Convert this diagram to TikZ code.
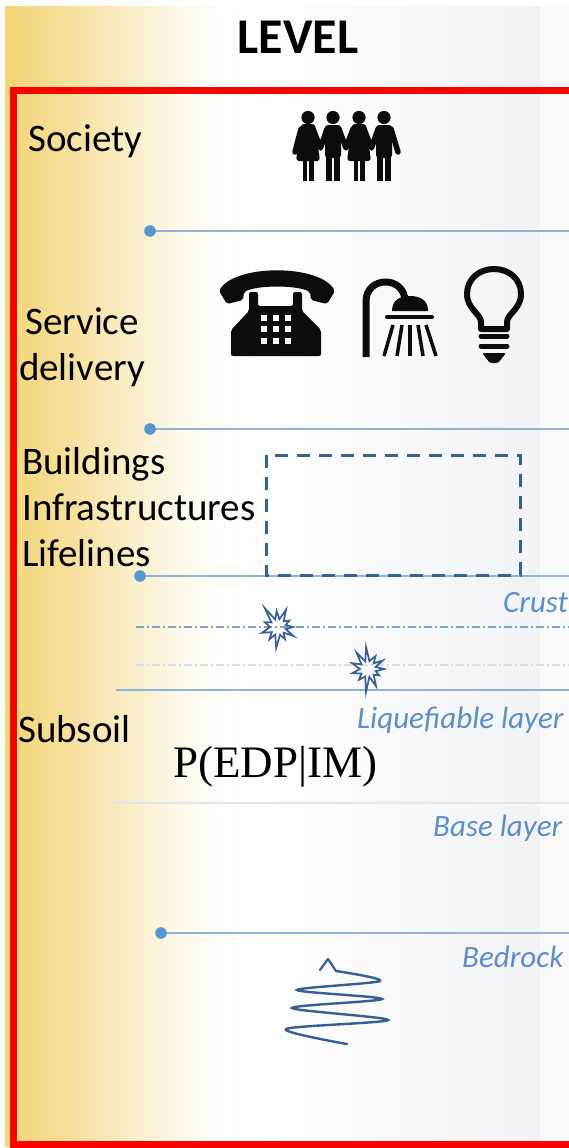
\documentclass[tikz,border=0pt]{standalone}
\usepackage{fontspec}
\setmainfont{Carlito}
\newfontfamily\edpfont{Liberation Serif}
\usepackage{xcolor}
\definecolor{goldbg}{RGB}{243, 212, 118}
\definecolor{palebg}{RGB}{242, 243, 246}
\definecolor{redframe}{RGB}{255,   0,   0}
\definecolor{layerline}{RGB}{146, 178, 214}
\definecolor{layerdot}{RGB}{ 88, 150, 210}
\definecolor{layertext}{RGB}{ 92, 142, 200}
\definecolor{boxblue}{RGB}{ 52, 100, 150}
\definecolor{quakeblue}{RGB}{ 55,  95, 145}
\definecolor{iconblack}{RGB}{ 12,  12,  12}
\usepackage{tikz}
\pgfdeclarehorizontalshading{levelbg}{100bp}{color(0bp)=(goldbg); color(25bp)=(goldbg);
  color(31bp)=(goldbg!72!white); color(37bp)=(goldbg!38!white);
  color(42bp)=(goldbg!12!white); color(47bp)=(white);
  color(75bp)=(palebg); color(100bp)=(palebg)}

\begin{document}
\begin{tikzpicture}[x=1pt, y=-1pt]

  \tikzstyle{rowlabel} = [
    anchor=base west, inner sep=0pt,
    font=\fontsize{39}{46}\selectfont, text=black
  ]
  \tikzstyle{layerlabel} = [
    anchor=base west, inner sep=0pt,
    font=\fontsize{31}{37}\selectfont\itshape, text=layertext
  ]
  \tikzstyle{levelline} = [draw=layerline, line width=2pt]
  \tikzstyle{leveldot} = [fill=layerdot]
  \tikzstyle{burst} = [draw=quakeblue, line width=1.7pt, line join=miter]
  \tikzstyle{icon} = [fill=iconblack, draw=none]
  \tikzstyle{iconline} = [draw=iconblack, line cap=round]

  \useasboundingbox (0,0) rectangle (569,1148);
  \fill[white] (0,0) rectangle (569,1148);
  \shade[shading=levelbg] (5,7) rectangle (540,1146);
  \fill[palebg!40!white] (540,7) rectangle (569,1146);

  \node[font=\fontsize{50}{60}\selectfont\bfseries, inner sep=0pt, anchor=base]
    (level) at (298,54) {LEVEL};

  \draw[redframe, line width=7pt] (13.5,90.5) rectangle (620,1144.5);

  % level separators
  \draw[levelline] (150,231) -- (569,231);
  \fill[leveldot] (150,231) circle (5.8);
  \draw[levelline] (150,429) -- (569,429);
  \fill[leveldot] (150,429) circle (5.8);
  \draw[levelline] (140,576) -- (569,576);
  \fill[leveldot] (140,576) circle (5.8);
  \draw[draw=layerline!80!boxblue, line width=1.5pt,
        dash pattern=on 8pt off 3pt on 2pt off 3pt] (136,627) -- (569,627);
  \draw[draw=palebg!70!layerline, line width=1.5pt,
        dash pattern=on 8pt off 3pt on 2pt off 3pt] (136,665) -- (569,665);
  \draw[draw=layerline, line width=1.6pt] (116,690) -- (569,690);
  \draw[draw=palebg!80!layerline, line width=2pt] (110,803) -- (569,803);
  \draw[levelline] (161,933) -- (569,933);
  \fill[leveldot] (161,933) circle (5.8);

  \node[rowlabel] (society) at (28,151) {Society};
  \node[rowlabel, anchor=base, align=center] (service) at (82,380)
    {Service\\delivery};
  \node[rowlabel, align=left] (assets) at (22,566)
    {Buildings\\Infrastructures\\Lifelines};
  \node[rowlabel] (subsoil) at (18,742) {Subsoil};

  \node[font=\edpfont\fontsize{45}{54}\selectfont, anchor=base west, inner sep=0pt]
    (edp) at (173,777) {P(EDP|IM)};

  \node[layerlabel] (crust) at (503,612) {Crust};
  \node[layerlabel] (liquef) at (357,728) {Liquefiable layer};
  \node[layerlabel] (base) at (433,836) {Base layer};
  \node[layerlabel] (bedrock) at (462,967) {Bedrock};

  \draw[boxblue, line width=3pt, dash pattern=on 13pt off 9pt] (266,455) rectangle (520,575);

  % people
  \foreach \cx in {308,359} {
    \begin{scope}[shift={(\cx,0)}]
      \fill[icon] (0,117.5) circle (6.6);
      \fill[icon, rounded corners=3pt] (-7,124) -- (7,124) -- (12,161) -- (-12,161) -- cycle;
      \fill[icon] (-5.5,158) rectangle (-1,181);
      \fill[icon] (1,158) rectangle (5.5,181);
    \end{scope}
  }
  \foreach \cx in {333,384} {
    \begin{scope}[shift={(\cx,0)}]
      \fill[icon] (0,117.5) circle (6.6);
      \fill[icon, rounded corners=3pt] (-8,125) rectangle (8,158);
      \fill[icon] (-7,155) rectangle (-1,181);
      \fill[icon] (1,155) rectangle (7,181);
    \end{scope}
  }
  \draw[iconline, line width=5.5pt] (301,129) -- (295,152);
  \draw[iconline, line width=5.5pt] (391,129) -- (398,152);
  \draw[iconline, line width=5.5pt, line join=round] (313,129) -- (320.5,148) -- (327,129);
  \draw[iconline, line width=5.5pt, line join=round] (339,129) -- (346,148) -- (353,129);
  \draw[iconline, line width=5.5pt, line join=round] (364,129) -- (371.5,148) -- (378,129);

  % telephone
  \fill[icon, rounded corners=2pt] (219,291) .. controls (235,264) and (319,264) .. (335,291)
    -- (327,304) -- (311,300) -- (310,292) .. controls (296,285) and (258,285) .. (244,292)
    -- (243,300) -- (227,304) -- cycle;
  \fill[icon, rounded corners=2pt] (249,311) -- (249,292) -- (258,292) -- (258,306)
    -- (293,306) -- (293,292) -- (302,292) -- (302,311) -- (321,330) -- (321,356)
    -- (231,356) -- (231,330) -- cycle;
  \foreach \i in {264,276,288}
    \foreach \j in {318,329,341}
      \fill[white] (\i,\j) ++(-3,-3) rectangle ++(6,6);

  % shower
  \draw[iconline, line width=7pt, line cap=butt] (366,357) -- (366,301.5)
    .. controls (366,275.5) and (405,275.5) .. (405,301.5);
  \fill[icon] (392,311) .. controls (392,300) and (400,296) .. (410,296)
    .. controls (420,296) and (428,300) .. (428,311) -- cycle;
  \draw[iconline, line width=4pt] (387,317) -- (432,317);
  \foreach \xa/\xb in {393/384, 402/397, 410/410, 418/423, 426/436}
    \draw[iconline, line width=3.5pt, line cap=butt] (\xa,325) -- (\xb,356);

  % bulb
  \draw[iconline, line width=6pt, line join=round] (481,329) -- (481,322)
    .. controls (481,314) and (467,309) .. (467,294)
    .. controls (467,279) and (479,269) .. (494,269)
    .. controls (509,269) and (521,279) .. (521,294)
    .. controls (521,309) and (507,314) .. (507,322) -- (507,329) -- cycle;
  \draw[iconline, line width=5pt] (481,336) -- (507,336);
  \draw[iconline, line width=5pt] (481,346) -- (507,346);
  \fill[icon, rounded corners=1.5pt] (482,353) -- (506,353) -- (498,363) -- (490,363) -- cycle;

  % ruptures
  \draw[burst, shift={(278,627)}] (0:15) \foreach \a/\r in {
      15/8, 30/18, 45/8, 60/14, 75/8, 95/21, 110/8, 125/15, 140/8, 160/17,
      180/8, 200/14, 215/8, 235/23, 250/8, 265/16, 280/8, 295/19, 315/8, 330/13, 345/8}
    { -- (\a:\r) } -- cycle;
  \draw[burst, shift={(368,669)}] (0:16) \foreach \a/\r in {
      15/8, 30/13, 45/8, 65/19, 80/8, 95/23, 110/8, 130/14, 145/8, 165/16,
      180/8, 200/17, 215/8, 235/20, 250/8, 265/22, 280/8, 300/15, 315/8, 330/17, 345/8}
    { -- (\a:\r) } -- cycle;

  % bedrock shaking
  \draw[quakeblue, line width=2.2pt, line join=round, line cap=round]
    (320,970) -- (328,959) -- (336,971);
  \draw[quakeblue, line width=2.4pt, line cap=round]
    plot[smooth, tension=0.5] coordinates {(336,971) (380,981) (297,990) (382,999)
      (292,1008) (388,1020) (286,1029) (347,1044)};

\end{tikzpicture}
\end{document}
